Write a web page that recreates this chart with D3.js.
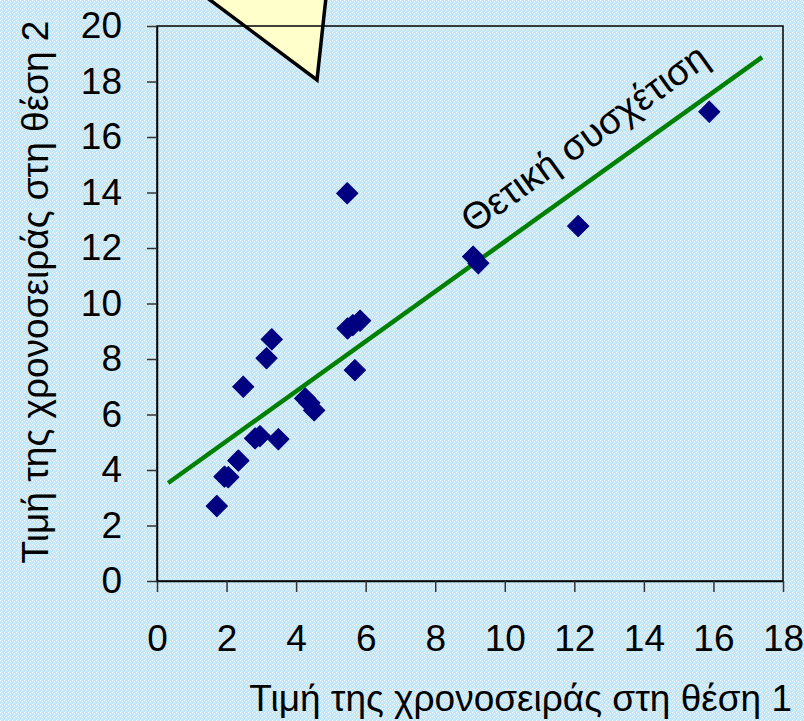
<!DOCTYPE html>
<html>
<head>
<meta charset="utf-8">
<script src="https://cdn.jsdelivr.net/npm/d3@7"></script>
<style>
  body { margin: 0; }
  svg { display: block; font-family: "Liberation Sans", Arial, sans-serif; }
</style>
</head>
<body>
<div id="chart"></div>
<script>
const width = 804
const height = 721

// values (position 1, position 2)
const xValues = [1.72, 1.94, 2.05, 2.34, 2.48, 2.82, 2.96, 3.49, 3.15, 3.30, 4.26, 4.38, 4.52, 5.47, 5.48, 5.63, 5.84, 5.69, 9.09, 9.24, 12.11, 15.88]
const yValues = [2.70, 3.76, 3.74, 4.34, 7.00, 5.14, 5.22, 5.11, 8.03, 8.71, 6.58, 6.42, 6.15, 13.97, 9.10, 9.22, 9.38, 7.60, 11.69, 11.45, 12.79, 16.91]
const xTicks = [0, 2, 4, 6, 8, 10, 12, 14, 16, 18]
const yTicks = [0, 2, 4, 6, 8, 10, 12, 14, 16, 18, 20]
// trend line ends
const trendX = [0.32, 17.4]
const trendY = [3.53, 18.88]

const xTitle = "Τιμή της χρονοσειράς στη θέση 1"
const yTitle = "Τιμή της χρονοσειράς στη θέση 2"
const trendLabel = "Θετική συσχέτιση"

let margin = { top: 26, right: 21, bottom: 140, left: 157 }

let navy = "#000080",
    green = "#008000",
    callout = "#FFFFCC",
    fontSize = 37

const svg = d3.select("#chart")
    .append("svg")
    .attr("width", width)
    .attr("height", height)

// speckled light blue background
const defs = svg.append("defs")
const pat = defs.append("pattern")
    .attr("id", "bg")
    .attr("width", 4)
    .attr("height", 4)
    .attr("patternUnits", "userSpaceOnUse")
pat.append("rect").attr("width", 4).attr("height", 4).attr("fill", "#c2e6f5")
pat.append("rect").attr("x", 0).attr("y", 0).attr("width", 1).attr("height", 1).attr("fill", "#f2fbff")
pat.append("rect").attr("x", 2).attr("y", 1).attr("width", 1).attr("height", 1).attr("fill", "#ffffff")
pat.append("rect").attr("x", 1).attr("y", 3).attr("width", 1).attr("height", 1).attr("fill", "#e4f5fc")
pat.append("rect").attr("x", 3).attr("y", 2).attr("width", 1).attr("height", 1).attr("fill", "#d8f0fa")

svg.append("rect")
    .attr("width", width)
    .attr("height", height)
    .attr("fill", "url(#bg)")

const x = d3.scaleLinear()
    .domain([0, 18])
    .range([margin.left, width - margin.right])

const y = d3.scaleLinear()
    .domain([0, 20])
    .range([height - margin.bottom, margin.top])

// callout tail poking in from above
const tail = [[194, -12], [327, -12], [317, 80]]
svg.append("path")
    .attr("d", d3.line()(tail) + "Z")
    .attr("fill", callout)
    .attr("stroke", "#000")
    .attr("stroke-width", 3.5)
    .attr("stroke-linejoin", "miter")

// plot frame
svg.append("rect")
    .attr("x", x(0))
    .attr("y", y(20))
    .attr("width", x(18) - x(0))
    .attr("height", y(0) - y(20))
    .attr("fill", "none")
    .attr("stroke", "#000")
    .attr("stroke-width", 1.5)

const xAxis = d3.axisBottom(x)
    .tickValues(xTicks)
    .tickSize(11)
    .tickSizeOuter(0)
    .tickPadding(33)

const yAxis = d3.axisLeft(y)
    .tickValues(yTicks)
    .tickSize(10)
    .tickSizeOuter(0)
    .tickPadding(25)

const gx = svg.append("g")
    .attr("transform", `translate(0,${y(0)})`)
    .call(xAxis)
const gy = svg.append("g")
    .attr("transform", `translate(${x(0)},0)`)
    .call(yAxis)

for (const g of [gx, gy]) {
    g.select(".domain").attr("stroke", "#000").attr("stroke-width", 1.5)
    g.selectAll(".tick line").attr("stroke", "#333").attr("stroke-width", 1.5)
    g.selectAll(".tick text")
        .attr("fill", "#000")
        .style("font-size", fontSize + "px")
        .style("font-family", "Liberation Sans, Arial, sans-serif")
}

// trend line
svg.append("line")
    .attr("x1", x(trendX[0]))
    .attr("y1", y(trendY[0]))
    .attr("x2", x(trendX[1]))
    .attr("y2", y(trendY[1]))
    .attr("stroke", green)
    .attr("stroke-width", 4.5)

const angle = Math.atan2(y(trendY[1]) - y(trendY[0]), x(trendX[1]) - x(trendX[0])) * 180 / Math.PI

svg.append("text")
    .attr("transform", `translate(${x(9.08)},${y(12.5)}) rotate(${angle})`)
    .attr("font-size", 38)
    .attr("fill", "#000")
    .text(trendLabel)

// points
const points = xValues.map((v, i) => ({ x: v, y: yValues[i] }))
const diamond = d3.symbol().type(d3.symbolSquare).size(225)

svg.selectAll(".dot")
    .data(points)
    .enter()
    .append("path")
    .attr("class", "dot")
    .attr("d", diamond)
    .attr("transform", d => `translate(${x(d.x)},${y(d.y)}) rotate(45)`)
    .attr("fill", navy)
    .attr("stroke", navy)
    .attr("stroke-width", 1)
    .attr("stroke-linejoin", "round")

// axis titles
svg.append("text")
    .attr("x", 792)
    .attr("y", 711)
    .attr("text-anchor", "end")
    .attr("font-size", fontSize)
    .attr("fill", "#000")
    .text(xTitle)

svg.append("text")
    .attr("transform", `translate(48,${292}) rotate(-90)`)
    .attr("text-anchor", "middle")
    .attr("font-size", fontSize)
    .attr("fill", "#000")
    .text(yTitle)
</script>
</body>
</html>
